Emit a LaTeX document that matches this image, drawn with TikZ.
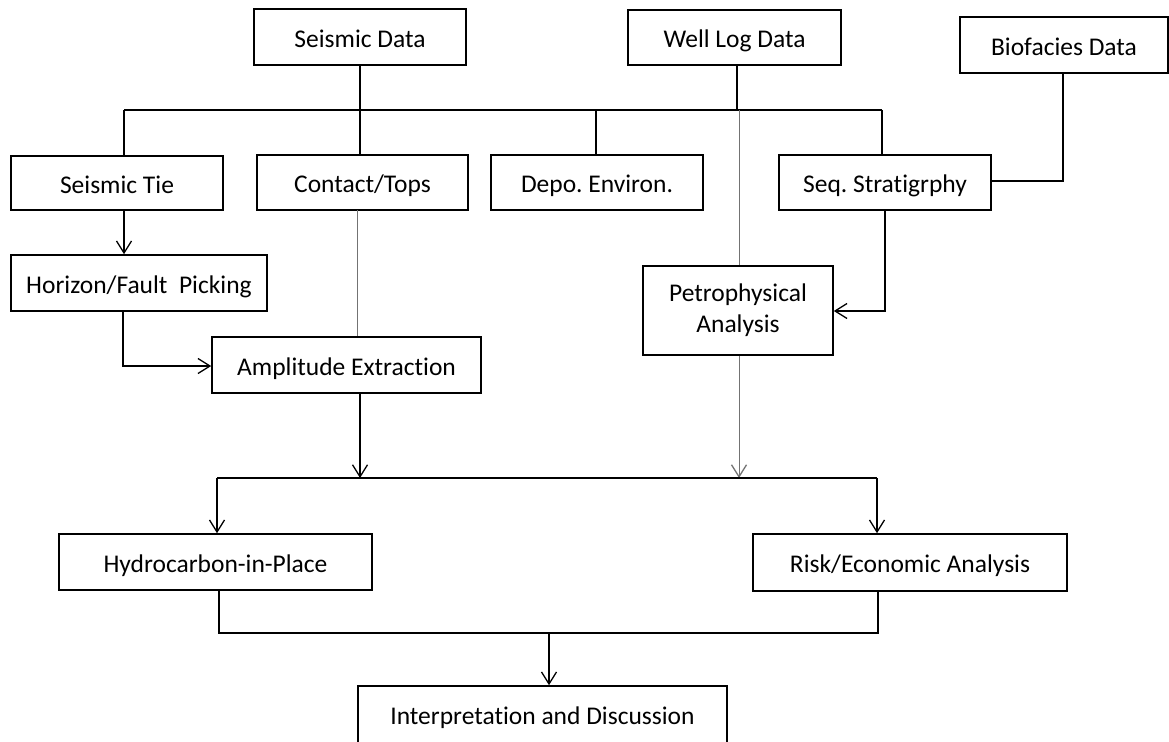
\documentclass[tikz,border=0pt]{standalone}
\usepackage{fontspec}
\setmainfont{Carlito}[Ligatures={NoCommon}]
\usetikzlibrary{arrows.meta,calc}
\frenchspacing
\begin{document}
\begin{tikzpicture}[x=1pt,y=-1pt,
  basebox/.style={draw, line width=1.6pt, inner sep=0pt, font=\fontsize{25.5}{31}\selectfont, align=center},
  box/.style={basebox, text height=22pt, text depth=1.6pt},
  con/.style={line width=1.5pt},
  thinline/.style={line width=1pt, draw=black!55},
  arr/.style={-{Straight Barb[length=12pt,width=15pt,line width=1.3pt]}}
]
\path[use as bounding box, clip] (0,0) rectangle (1169,741);
\fill[white] (0,0) rectangle (1169,741);

% top sources
\node[box, minimum width=212pt, minimum height=56pt] (sd) at (360,37) {Seismic Data};
\node[box, minimum width=213pt, minimum height=55pt] (wl) at (734.5,37.5) {Well Log Data};
\node[box, minimum width=208pt, minimum height=56pt] (bf) at (1064,45) {Biofacies Data};

% second row
\node[box, minimum width=212pt, minimum height=54pt] (st) at (117,183) {Seismic Tie};
\node[box, minimum width=211pt, minimum height=55pt] (ct) at (362.5,182.5) {Contact/Tops};
\node[box, minimum width=212pt, minimum height=55pt] (de) at (597,182.5) {Depo. Environ.};
\node[box, minimum width=212pt, minimum height=55pt] (ss) at (885,182.5) {Seq. Stratigrphy};

% third row
\node[box, minimum width=256pt, minimum height=56pt] (hf) at (139,283) {Horizon/Fault\ \ Picking};
\node[basebox, minimum width=190pt, minimum height=89pt] (pa) at (738,310.5) {Petrophysical\\Analysis};
\node[box, minimum width=269pt, minimum height=56pt] (ae) at (346.5,365) {Amplitude Extraction};

% lower rows
\node[box, minimum width=313pt, minimum height=56pt] (hp) at (215.5,562) {Hydrocarbon-in-Place};
\node[box, minimum width=314pt, minimum height=57pt] (re) at (910,562.5) {Risk/Economic Analysis};
\node[basebox, text height=17pt, text depth=2.6pt, minimum width=369pt, minimum height=62pt] (id) at (542.5,717) {Interpretation and Discussion};

% helper coordinates
\coordinate (bL) at (124,110);
\coordinate (bR) at (882,110);
\coordinate (tSD) at (360,110);
\coordinate (tWL) at (737,110);
\coordinate (tDE) at (596,110);
\coordinate (tPA) at (739,110);
\coordinate (bfBend) at (1063,181);
\coordinate (hfBend) at (123,366);
\coordinate (ctAE) at (357,210);
\coordinate (ssBend) at (885,311);
\coordinate (lbL) at (217,478);
\coordinate (lbR) at (877,478);
\coordinate (bbL) at (219,633);
\coordinate (bbR) at (878,633);
\coordinate (bbM) at (549,633);

% upper bus
\draw[con, line width=1.8pt] (bL) -- (bR);
\draw[con] (sd.south -| tSD) -- (tSD) -- (tSD |- ct.north);
\draw[con] (wl.south -| tWL) -- (tWL);
\draw[con] (bL) -- (bL |- st.north);
\draw[con] (tDE) -- (tDE |- de.north);
\draw[con] (bR) -- (bR |- ss.north);
\draw[thinline] (tPA) -- (tPA |- pa.north);
\draw[con] (bfBend |- bf.south) -- (bfBend) -- (bfBend -| ss.east);

% middle connectors
\draw[con, arr] (st.south -| bL) -- (hf.north -| bL);
\draw[con, arr] (hf.south -| hfBend) -- (hfBend) -- (hfBend -| ae.west);
\draw[thinline] (ctAE) -- (ctAE |- ae.north);
\draw[con, arr] (ss.south -| ssBend) -- (ssBend) -- (ssBend -| pa.east);

% lower bus
\draw[con, arr] (ae.south -| tSD) -- (tSD |- lbL);
\draw[thinline, arr] (pa.south -| tPA) -- (tPA |- lbL);
\draw[con, line width=1.8pt] (lbL) -- (lbR);
\draw[con, arr] (lbL) -- (lbL |- hp.north);
\draw[con, arr] (lbR) -- (lbR |- re.north);

% bottom bus
\draw[con] (hp.south -| bbL) -- (bbL) -- (bbR) -- (re.south -| bbR);
\draw[con, arr] (bbM) -- (bbM |- id.north);
\end{tikzpicture}
\end{document}
